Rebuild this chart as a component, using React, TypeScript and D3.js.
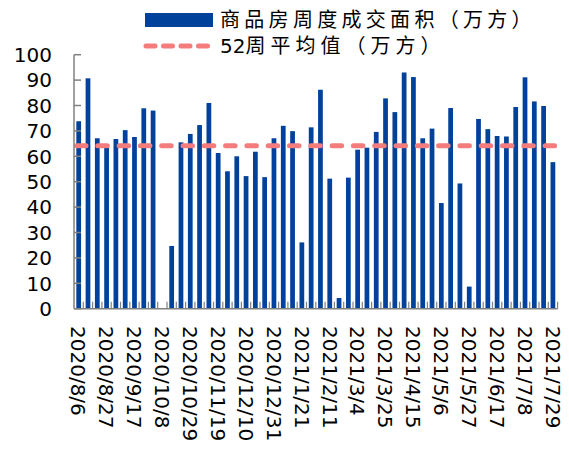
import React from "react";
import * as d3 from "d3";

const weeks: string[] = [
  "2020/8/6","2020/8/13","2020/8/20","2020/8/27","2020/9/3","2020/9/10","2020/9/17","2020/9/24",
  "2020/10/1","2020/10/8","2020/10/15","2020/10/22","2020/10/29","2020/11/5","2020/11/12","2020/11/19",
  "2020/11/26","2020/12/3","2020/12/10","2020/12/17","2020/12/24","2020/12/31","2021/1/7","2021/1/14",
  "2021/1/21","2021/1/28","2021/2/4","2021/2/11","2021/2/18","2021/2/25","2021/3/4","2021/3/11",
  "2021/3/18","2021/3/25","2021/4/1","2021/4/8","2021/4/15","2021/4/22","2021/4/29","2021/5/6",
  "2021/5/13","2021/5/20","2021/5/27","2021/6/3","2021/6/10","2021/6/17","2021/6/24","2021/7/1",
  "2021/7/8","2021/7/15","2021/7/22","2021/7/29",
];

const area: number[] = [
  73.8, 90.7, 67.1, 63.3, 66.8, 70.3, 67.6, 78.9, 78.0, 0,
  24.7, 65.5, 68.8, 72.3, 81.0, 61.3, 54.1, 60.0, 52.2, 61.8,
  51.8, 67.1, 72.0, 69.9, 26.1, 71.4, 86.2, 51.2, 4.2, 51.6,
  62.6, 63.4, 69.6, 82.8, 77.4, 93.0, 91.2, 67.1, 70.9, 41.6,
  79.0, 49.3, 8.7, 74.7, 70.7, 68.0, 67.8, 79.4, 91.1, 81.6,
  79.8, 57.7,
];

const tickLabels: string[] = [
  "2020/8/6","2020/8/27","2020/9/17","2020/10/8","2020/10/29","2020/11/19","2020/12/10","2020/12/31",
  "2021/1/21","2021/2/11","2021/3/4","2021/3/25","2021/4/15","2021/5/6","2021/5/27","2021/6/17",
  "2021/7/8","2021/7/29",
];

const yTicks: number[] = [0, 10, 20, 30, 40, 50, 60, 70, 80, 90, 100];

const seriesName = "商品房周度成交面积（万方）";
const avgNamePrefix = "52";
const avgNameRest = "周平均值（万方）";

const BAR = "#00419C";
const AVG = "#F47C7C";
const AXIS = "#808080";
const NUM_FONT = "'DejaVu Sans', Verdana, sans-serif";
const CJK_FONT = "'Noto Sans CJK SC', sans-serif";

export default function App() {
  const W = 569, H = 450;
  const x0 = 74, x1 = 557.6, yTop = 54.7, yBot = 308.7;
  const x = d3.scaleBand<string>().domain(weeks).range([x0, x1]).paddingInner(0.49).paddingOuter(0.25);
  const band = d3.scaleBand<string>().domain(weeks).range([x0, x1]).padding(0);
  const y = d3.scaleLinear().domain([0, 100]).range([yBot, yTop]);
  const avg = d3.mean(area) as number;

  return (
    <svg width={W} height={H} style={{ position: "absolute", left: 0, top: 0, background: "#fff" }}>
      {/* bars */}
      {weeks.map((w, i) =>
        area[i] > 0 ? (
          <rect key={w} x={x(w)} y={y(area[i])} width={x.bandwidth()} height={yBot - y(area[i])} fill={BAR} />
        ) : null
      )}
      {/* average line */}
      <line x1={band(weeks[0])! + 2.5} x2={x1 - 2} y1={y(avg)} y2={y(avg)} stroke={AVG} strokeWidth={5}
        strokeDasharray="9.5 11.8" strokeLinecap="round" />
      {/* y axis */}
      <line x1={x0} x2={x0} y1={yTop} y2={yBot} stroke={AXIS} strokeWidth={1.5} />
      {yTicks.map((t) => (
        <g key={t}>
          <line x1={x0} x2={x0 + 7} y1={y(t)} y2={y(t)} stroke={AXIS} strokeWidth={1.5} />
          <text x={52} y={y(t)} dy="0.36em" textAnchor="end" fontFamily={NUM_FONT} fontSize={20} fill="#000">{t}</text>
        </g>
      ))}
      {/* x axis */}
      <line x1={x0} x2={x1} y1={yBot} y2={yBot} stroke={AXIS} strokeWidth={1.5} />
      {weeks.map((w) => (
        <line key={"t" + w} x1={band(w)! + band.bandwidth()} x2={band(w)! + band.bandwidth()} y1={yBot} y2={yBot - 7}
          stroke={AXIS} strokeWidth={1.2} />
      ))}
      {tickLabels.map((lab) => {
        const cx = band(lab)! + band.bandwidth() / 2;
        return (
          <text key={"l" + lab} transform={`translate(${cx},326) rotate(90)`} dy="0.36em" fontFamily={NUM_FONT}
            fontSize={20} fill="#000">{lab}</text>
        );
      })}
      {/* legend */}
      <rect x={145} y={13} width={68} height={14} fill={BAR} />
      <text x={220} y={27} fontFamily={CJK_FONT} fontSize={20} letterSpacing={4.3} fill="#000">{seriesName}</text>
      <line x1={146} x2={212} y1={46} y2={46} stroke={AVG} strokeWidth={5} strokeDasharray="9 8.5" strokeLinecap="round" />
      <text x={220} y={53} fill="#000">
        <tspan fontFamily={NUM_FONT} fontSize={20}>{avgNamePrefix}</tspan>
        <tspan fontFamily={CJK_FONT} fontSize={20} letterSpacing={5}>{avgNameRest}</tspan>
      </text>
    </svg>
  );
}
